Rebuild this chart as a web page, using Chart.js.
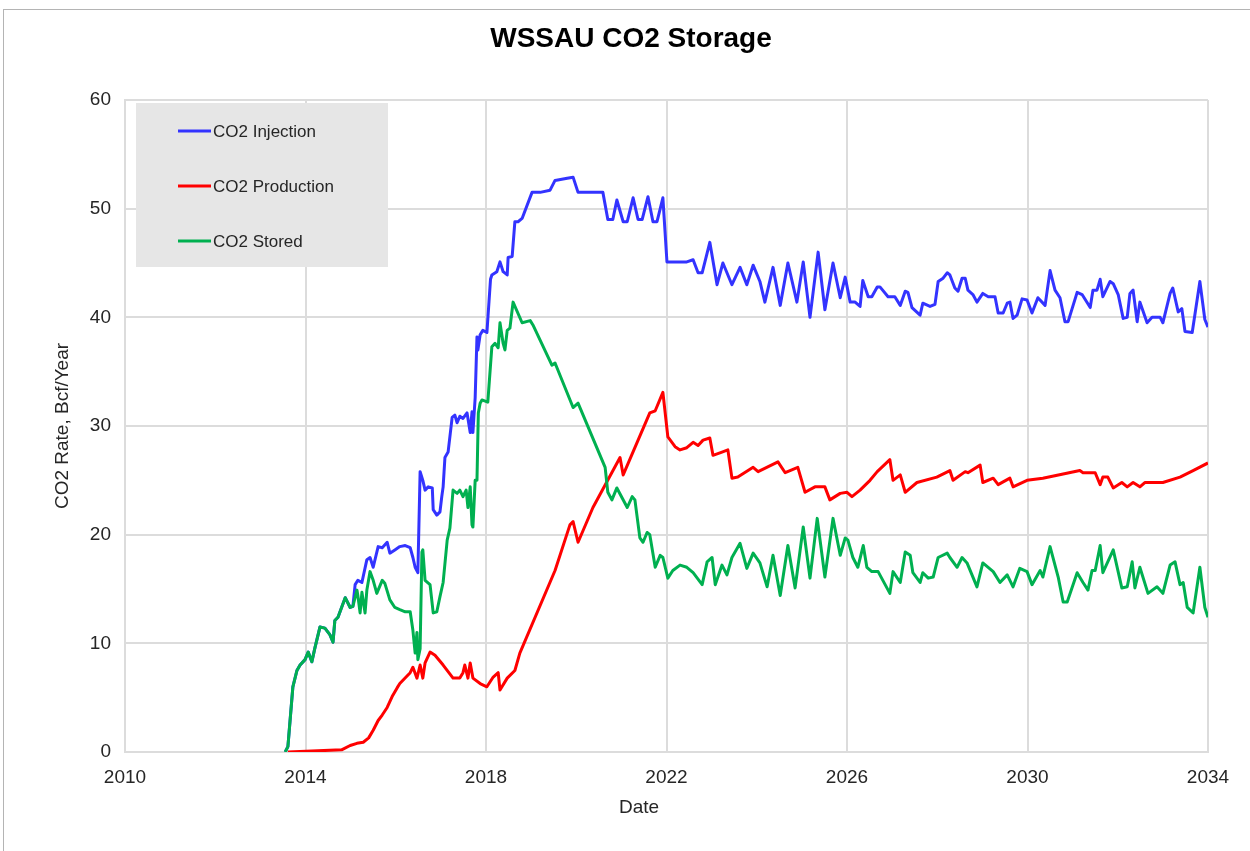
<!DOCTYPE html>
<html>
<head>
<meta charset="utf-8">
<title>WSSAU CO2 Storage</title>
<script src="https://cdn.jsdelivr.net/npm/chart.js@4.4.1/dist/chart.umd.min.js"></script>
<style>
  body { margin: 0; background: #fff; }
  #wrap { position: relative; width: 1250px; height: 851px; overflow: hidden; }
  #frame { position: absolute; left: 3px; top: 9px; width: 1300px; height: 900px;
           border-top: 1px solid #b4b4b4; border-left: 1px solid #b4b4b4; }
  #chart { position: absolute; left: 0; top: 0; }
</style>
</head>
<body>
<div id="wrap">
  <div id="frame"></div>
  <canvas id="chart" width="1250" height="851"></canvas>
</div>
<script>
// values (decimal years, Bcf/Year)
const injectionDates = [2013.55, 2013.61, 2013.72, 2013.81, 2013.88, 2013.99, 2014.06, 2014.14, 2014.21, 2014.32,
  2014.43, 2014.54, 2014.61, 2014.65, 2014.72, 2014.88, 2014.99, 2015.05, 2015.10, 2015.16, 2015.25, 2015.36, 2015.43,
  2015.50, 2015.61, 2015.70, 2015.81, 2015.87, 2015.98, 2016.09, 2016.21, 2016.32, 2016.38, 2016.43, 2016.49, 2016.54,
  2016.60, 2016.65, 2016.72, 2016.81, 2016.83, 2016.91, 2016.98, 2017.02, 2017.05, 2017.09, 2017.16, 2017.25, 2017.31,
  2017.36, 2017.42, 2017.49, 2017.58, 2017.65, 2017.69, 2017.71, 2017.76, 2017.80, 2017.82, 2017.87, 2017.93, 2018.02,
  2018.10, 2018.13, 2018.24, 2018.31, 2018.38, 2018.47, 2018.49, 2018.58, 2018.64, 2018.71, 2018.80, 2019.02, 2019.20,
  2019.42, 2019.53, 2019.80, 2019.93, 2020.04, 2020.59, 2020.70, 2020.81, 2020.90, 2021.04, 2021.13, 2021.26, 2021.37,
  2021.46, 2021.59, 2021.70, 2021.79, 2021.92, 2022.01, 2022.45, 2022.59, 2022.70, 2022.79, 2022.96, 2023.12, 2023.25,
  2023.45, 2023.63, 2023.78, 2023.92, 2024.07, 2024.18, 2024.36, 2024.52, 2024.69, 2024.89, 2025.03, 2025.18, 2025.36,
  2025.51, 2025.69, 2025.85, 2025.96, 2026.07, 2026.18, 2026.29, 2026.35, 2026.47, 2026.55, 2026.67, 2026.73, 2026.91,
  2027.06, 2027.18, 2027.29, 2027.35, 2027.44, 2027.62, 2027.68, 2027.84, 2027.95, 2028.02, 2028.13, 2028.22, 2028.28,
  2028.39, 2028.46, 2028.55, 2028.62, 2028.68, 2028.79, 2028.88, 2029.01, 2029.13, 2029.28, 2029.35, 2029.46, 2029.55,
  2029.61, 2029.68, 2029.77, 2029.88, 2029.99, 2030.10, 2030.23, 2030.39, 2030.50, 2030.61, 2030.72, 2030.83, 2030.90,
  2031.10, 2031.21, 2031.39, 2031.45, 2031.54, 2031.61, 2031.67, 2031.83, 2031.90, 2032.01, 2032.12, 2032.21, 2032.27,
  2032.34, 2032.43, 2032.49, 2032.65, 2032.76, 2032.94, 2033.00, 2033.16, 2033.22, 2033.34, 2033.42, 2033.49, 2033.65,
  2033.82, 2033.93, 2034.00];
const injectionValues = [0, 0.5, 6.0, 7.5, 8.0, 8.5, 9.2, 8.3, 9.6, 11.5,
  11.4, 10.8, 10.1, 12.1, 12.4, 14.2, 13.3, 13.4, 15.4, 15.8, 15.6, 17.7, 17.9,
  17.0, 18.9, 18.8, 19.3, 18.3, 18.6, 18.9, 19.0, 18.8, 17.9, 17.0, 16.5, 25.8,
  25.0, 24.1, 24.4, 24.3, 22.3, 21.8, 22.1, 23.5, 24.4, 27.1, 27.6, 30.8, 31.0,
  30.3, 30.9, 30.7, 31.2, 29.4, 31.3, 29.4, 32.6, 38.2, 37.0, 38.4, 38.8, 38.6,
  43.5, 43.9, 44.2, 45.1, 44.2, 43.9, 45.5, 45.6, 48.8, 48.8, 49.1, 51.5, 51.5,
  51.7, 52.6, 52.8, 52.9, 51.5, 51.5, 49.0, 49.0, 50.8, 48.8, 48.8, 51.0, 49.0,
  49.0, 51.1, 48.8, 48.8, 51.0, 45.1, 45.1, 45.3, 44.1, 44.1, 46.9, 43.0, 45.0,
  43.0, 44.6, 43.0, 44.8, 43.3, 41.4, 44.6, 41.1, 45.0, 41.4, 45.1, 40.0, 46.0,
  40.7, 45.0, 41.8, 43.7, 41.4, 41.4, 41.0, 43.4, 41.9, 41.9, 42.8, 42.8, 41.9,
  41.9, 41.1, 42.4, 42.3, 40.9, 40.2, 41.3, 41.0, 41.2, 43.3, 43.6, 44.1, 43.9,
  42.7, 42.4, 43.6, 43.6, 42.5, 42.1, 41.4, 42.2, 41.9, 41.9, 40.4, 40.4, 41.3,
  41.4, 39.9, 40.2, 41.7, 41.6, 40.4, 41.8, 41.1, 44.3, 42.5, 41.8, 39.6, 39.6,
  42.3, 42.1, 40.9, 42.5, 42.5, 43.5, 41.9, 43.3, 43.1, 42.1, 39.9, 40.0, 42.2,
  42.5, 39.6, 41.4, 39.5, 40.0, 40.0, 39.5, 42.2, 42.7, 40.5, 40.8, 38.7, 38.6,
  43.3, 39.8, 39.1];

const productionDates = [2013.61, 2014.80, 2014.99, 2015.14, 2015.28, 2015.40, 2015.50, 2015.61, 2015.70, 2015.81,
  2015.92, 2016.03, 2016.09, 2016.32, 2016.38, 2016.47, 2016.54, 2016.60, 2016.65, 2016.76, 2016.87, 2017.05, 2017.27,
  2017.42, 2017.49, 2017.53, 2017.60, 2017.65, 2017.71, 2017.87, 2018.02, 2018.16, 2018.27, 2018.31, 2018.47, 2018.64,
  2018.75, 2019.53, 2019.86, 2019.93, 2020.04, 2020.37, 2020.97, 2021.04, 2021.63, 2021.75, 2021.92, 2022.03, 2022.19,
  2022.30, 2022.45, 2022.59, 2022.70, 2022.81, 2022.96, 2023.03, 2023.23, 2023.36, 2023.45, 2023.58, 2023.92, 2024.03,
  2024.47, 2024.63, 2024.91, 2025.07, 2025.29, 2025.51, 2025.62, 2025.85, 2026.00, 2026.11, 2026.29, 2026.51, 2026.67,
  2026.95, 2027.02, 2027.18, 2027.29, 2027.55, 2027.99, 2028.28, 2028.35, 2028.62, 2028.68, 2028.95, 2029.01, 2029.24,
  2029.35, 2029.61, 2029.68, 2029.99, 2030.34, 2031.16, 2031.23, 2031.50, 2031.61, 2031.67, 2031.78, 2031.90, 2032.09,
  2032.21, 2032.34, 2032.49, 2032.60, 2033.00, 2033.38, 2033.67, 2034.00];
const productionValues = [0, 0.2, 0.6, 0.8, 0.9, 1.3, 2.0, 2.9, 3.4, 4.1,
  5.1, 5.9, 6.3, 7.3, 7.8, 6.8, 8.0, 6.8, 8.2, 9.2, 8.9, 8.0, 6.8,
  6.8, 7.3, 8.0, 6.8, 8.2, 6.8, 6.3, 6.0, 6.9, 7.3, 5.7, 6.8, 7.5,
  9.1, 16.7, 20.9, 21.2, 19.3, 22.5, 27.1, 25.5, 31.2, 31.4, 33.1, 29.0, 28.1,
  27.8, 28.0, 28.5, 28.2, 28.7, 28.9, 27.3, 27.6, 27.8, 25.2, 25.3, 26.2, 25.8,
  26.7, 25.7, 26.2, 23.9, 24.4, 24.4, 23.2, 23.8, 23.9, 23.5, 24.1, 25.0, 25.8,
  26.9, 25.0, 25.5, 23.9, 24.8, 25.3, 25.9, 25.0, 25.8, 25.7, 26.4, 24.8, 25.2,
  24.6, 25.2, 24.4, 25.0, 25.2, 25.9, 25.7, 25.7, 24.6, 25.3, 25.3, 24.3, 24.8,
  24.4, 24.8, 24.4, 24.8, 24.8, 25.3, 25.9, 26.6];

const storedDates = [2013.55, 2013.61, 2013.72, 2013.81, 2013.88, 2013.99, 2014.06, 2014.14, 2014.21, 2014.32,
  2014.43, 2014.54, 2014.61, 2014.65, 2014.72, 2014.88, 2014.99, 2015.05, 2015.14, 2015.16, 2015.21, 2015.25, 2015.32,
  2015.36, 2015.43, 2015.50, 2015.58, 2015.70, 2015.76, 2015.87, 2015.98, 2016.09, 2016.21, 2016.32, 2016.38, 2016.43,
  2016.47, 2016.49, 2016.54, 2016.58, 2016.60, 2016.65, 2016.76, 2016.83, 2016.91, 2016.98, 2017.05, 2017.14, 2017.20,
  2017.27, 2017.36, 2017.42, 2017.49, 2017.56, 2017.60, 2017.65, 2017.69, 2017.71, 2017.76, 2017.80, 2017.83, 2017.87,
  2017.91, 2018.04, 2018.13, 2018.20, 2018.27, 2018.31, 2018.38, 2018.42, 2018.47, 2018.53, 2018.60, 2018.80, 2018.98,
  2019.04, 2019.46, 2019.53, 2019.93, 2020.04, 2020.64, 2020.70, 2020.79, 2020.90, 2021.13, 2021.24, 2021.30, 2021.41,
  2021.48, 2021.57, 2021.63, 2021.75, 2021.86, 2021.92, 2022.03, 2022.14, 2022.30, 2022.45, 2022.59, 2022.79, 2022.90,
  2023.01, 2023.08, 2023.23, 2023.34, 2023.45, 2023.63, 2023.78, 2023.92, 2024.07, 2024.23, 2024.36, 2024.52, 2024.69,
  2024.85, 2025.03, 2025.18, 2025.34, 2025.51, 2025.69, 2025.85, 2025.96, 2026.02, 2026.13, 2026.24, 2026.36, 2026.44,
  2026.55, 2026.69, 2026.95, 2027.02, 2027.18, 2027.29, 2027.40, 2027.46, 2027.62, 2027.68, 2027.80, 2027.91, 2028.02,
  2028.22, 2028.28, 2028.44, 2028.55, 2028.66, 2028.88, 2029.01, 2029.24, 2029.39, 2029.55, 2029.68, 2029.83, 2029.99,
  2030.10, 2030.28, 2030.34, 2030.50, 2030.68, 2030.79, 2030.88, 2031.10, 2031.23, 2031.34, 2031.43, 2031.50, 2031.61,
  2031.67, 2031.90, 2032.09, 2032.21, 2032.32, 2032.38, 2032.49, 2032.67, 2032.87, 2033.00, 2033.16, 2033.27, 2033.38,
  2033.45, 2033.54, 2033.67, 2033.82, 2033.93, 2034.00];
const storedValues = [0, 0.5, 6.0, 7.5, 8.0, 8.5, 9.2, 8.3, 9.6, 11.5,
  11.4, 10.8, 10.1, 12.1, 12.4, 14.2, 13.3, 13.4, 14.9, 14.4, 12.8, 14.7, 12.8,
  14.9, 16.6, 15.8, 14.6, 15.8, 15.5, 14.0, 13.3, 13.1, 12.9, 12.9, 11.2, 9.1,
  11.0, 8.5, 9.5, 18.4, 18.6, 15.8, 15.4, 12.8, 12.9, 14.3, 15.6, 19.5, 20.6,
  24.1, 23.8, 24.1, 23.5, 24.1, 22.5, 24.4, 20.9, 20.7, 25.0, 25.0, 31.2, 32.1,
  32.4, 32.2, 37.3, 37.6, 37.2, 39.5, 37.6, 37.0, 38.8, 39.0, 41.4, 39.5, 39.7,
  39.3, 35.6, 35.8, 31.7, 32.1, 26.2, 23.9, 23.2, 24.3, 22.5, 23.5, 23.2, 19.7,
  19.3, 20.2, 20.0, 17.0, 18.1, 17.9, 16.0, 16.7, 17.2, 17.0, 16.5, 15.4, 17.5,
  17.9, 15.4, 17.2, 16.3, 17.9, 19.2, 16.9, 18.3, 17.4, 15.2, 18.1, 14.4, 19.0,
  15.1, 20.7, 16.0, 21.5, 16.1, 21.5, 18.1, 19.7, 19.5, 17.9, 17.0, 19.0, 17.0,
  16.6, 16.6, 14.6, 16.6, 15.6, 18.4, 18.1, 16.5, 15.6, 16.5, 16.0, 16.1, 17.9,
  18.3, 17.9, 17.0, 17.9, 17.4, 15.2, 17.4, 16.6, 15.6, 16.3, 15.2, 16.9, 16.6,
  15.4, 16.7, 16.1, 18.9, 16.1, 13.8, 13.8, 16.5, 15.6, 14.9, 16.7, 16.7, 19.0,
  16.5, 18.6, 15.1, 15.2, 17.5, 15.1, 17.0, 14.6, 15.2, 14.6, 17.2, 17.5, 15.4,
  15.6, 13.3, 12.8, 17.0, 13.3, 12.4];

const xTicks = [2010, 2014, 2018, 2022, 2026, 2030, 2034];
const yTicks = [0, 10, 20, 30, 40, 50, 60];
const chartTitle = 'WSSAU CO2 Storage';
const xTitle = 'Date';
const yTitle = 'CO2 Rate, Bcf/Year';

function toPoints(dates, values) {
    return dates.map((d, i) => ({ x: d, y: values[i] }));
}

const FONT = "'Liberation Sans', Arial, sans-serif";
Chart.defaults.font.family = FONT;
Chart.defaults.color = '#262626';

// grey legend box inside the plot area, plus chart title and x-axis title
const decorations = {
    id: 'decorations',
    afterDatasetsDraw(chart) {
        const c = chart.ctx;
        const area = chart.chartArea;
        const x0 = area.left + 11, y0 = area.top + 3;
        c.save();
        c.fillStyle = '#e6e6e6';
        c.fillRect(x0, y0, 252, 164);
        c.font = '17px ' + FONT;
        c.textBaseline = 'middle';
        chart.data.datasets.forEach((ds, i) => {
            const y = y0 + 28 + i * 55;
            c.strokeStyle = ds.borderColor;
            c.lineWidth = 3;
            c.beginPath();
            c.moveTo(x0 + 42, y);
            c.lineTo(x0 + 75, y);
            c.stroke();
            c.fillStyle = '#262626';
            c.fillText(ds.label, x0 + 77, y + 1);
        });

        c.textAlign = 'center';
        c.fillStyle = '#000';
        c.font = 'bold 28px ' + FONT;
        c.fillText(chartTitle, 631, 39);
        c.fillStyle = '#262626';
        c.font = '19px ' + FONT;
        c.fillText(xTitle, 639, 808);
        c.restore();
    }
};

const ctx = document.getElementById('chart').getContext('2d');
const chart = new Chart(ctx, {
    type: 'line',
    data: {
        datasets: [
            { label: 'CO2 Injection', data: toPoints(injectionDates, injectionValues), borderColor: '#3333ff', order: 2 },
            { label: 'CO2 Production', data: toPoints(productionDates, productionValues), borderColor: '#ff0000', order: 1 },
            { label: 'CO2 Stored', data: toPoints(storedDates, storedValues), borderColor: '#00b050', order: 0 }
        ]
    },
    options: {
        responsive: false,
        animation: false,
        parsing: false,
        layout: { padding: { left: 0, right: 42, top: 100, bottom: 0 } },
        elements: {
            line: { borderWidth: 3, tension: 0, borderJoinStyle: 'round' },
            point: { radius: 0 }
        },
        plugins: {
            legend: { display: false },
            tooltip: { enabled: false },
            title: { display: false }
        },
        scales: {
            x: {
                type: 'linear',
                min: 2010,
                max: 2034,
                afterBuildTicks: (scale) => { scale.ticks = xTicks.map(v => ({ value: v })); },
                afterFit: (scale) => { scale.height = 99; },
                ticks: {
                    padding: 14,
                    font: { size: 19 },
                    callback: (v) => String(v)
                },
                grid: { color: '#dcdcdc', lineWidth: 2, drawTicks: false },
                border: { color: '#dcdcdc', width: 2 }
            },
            y: {
                min: 0,
                max: 60,
                afterBuildTicks: (scale) => { scale.ticks = yTicks.map(v => ({ value: v })); },
                afterFit: (scale) => { scale.width = 125; },
                ticks: { padding: 14, font: { size: 19 } },
                grid: { color: '#dcdcdc', lineWidth: 2, drawTicks: false },
                border: { color: '#dcdcdc', width: 2 },
                title: {
                    display: true,
                    text: yTitle,
                    font: { size: 19 },
                    padding: { top: 51, bottom: 0 }
                }
            }
        }
    },
    plugins: [decorations]
});
</script>
</body>
</html>
